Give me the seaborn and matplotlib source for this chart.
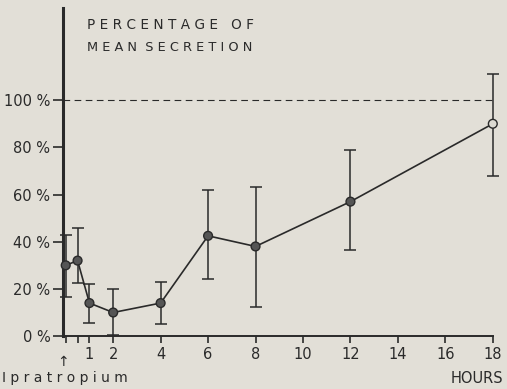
import numpy as np
import pandas as pd
import matplotlib
matplotlib.use("Agg")
import matplotlib.pyplot as plt
import seaborn as sns

hours = [0, 0.5, 1, 2, 4, 6, 8, 12, 18]
mean_pct = [30, 32, 14, 10, 14, 42.5, 38, 57, 90]
err_low = [16.5, 22.5, 5.5, 0.5, 5, 24, 12.5, 36.5, 68]
err_high = [43, 46, 22, 20, 23, 62, 63, 79, 111]
x_ticks = [0, 0.5, 1, 2, 4, 6, 8, 10, 12, 14, 16, 18]
x_labels = ["", "", "1", "2", "4", "6", "8", "10", "12", "14", "16", "18"]
y_ticks = [0, 20, 40, 60, 80, 100]
y_labels = ["0 %", "20 %", "40 %", "60 %", "80 %", "100 %"]

df = pd.DataFrame({"hours": hours, "pct": mean_pct})
bg = "#e2dfd7"
ink = "#2a2a2a"

sns.set_style("ticks")
plt.rcParams["font.family"] = ["DejaVu Sans"]

fig = plt.figure(figsize=(5.07, 3.89), dpi=100, facecolor=bg)
ax = fig.add_axes([0.124, 0.136, 0.848, 0.843])
ax.set_facecolor(bg)

ax.axhline(100, color=ink, lw=0.8, ls=(0, (6, 4)))

yerr = np.array([np.array(mean_pct) - np.array(err_low),
                 np.array(err_high) - np.array(mean_pct)])
ax.errorbar(hours, mean_pct, yerr=yerr, fmt="none", ecolor=ink,
            elinewidth=1.1, capsize=4, capthick=1.1, zorder=2, clip_on=False)
sns.lineplot(data=df, x="hours", y="pct", ax=ax, color=ink, lw=1.2,
             zorder=3, legend=False)
face = ["#555555"] * (len(hours) - 1) + ["#dcdad2"]
ax.scatter(hours, mean_pct, s=40, c=face, edgecolors=ink, linewidths=1.0,
           zorder=4, clip_on=False)

ax.set_xlim(-0.12, 18)
ax.set_ylim(0, 139)
ax.set_xticks(x_ticks)
ax.set_xticklabels(x_labels, fontsize=10.5, color=ink)
ax.set_yticks(y_ticks)
ax.set_yticklabels(y_labels, fontsize=10.5, color=ink)
ax.tick_params(axis="y", length=7, width=1.2, color=ink, pad=2)
ax.tick_params(axis="x", length=5, width=1.2, color=ink, pad=3)
ax.set_xlabel("")
ax.set_ylabel("")
sns.despine(ax=ax)
ax.spines["left"].set_linewidth(2.2)
ax.spines["bottom"].set_linewidth(1.4)
ax.spines["left"].set_color(ink)
ax.spines["bottom"].set_color(ink)

fig.text(0.172, 0.935, "P E R C E N T A G E   O F", fontsize=9.8, color=ink,
         va="center", ha="left")
fig.text(0.172, 0.878, "M E A N  S E C R E T I O N", fontsize=9.3, color=ink,
         va="center", ha="left")
fig.text(0.125, 0.07, "\u2191", fontsize=10, color=ink, ha="center", va="center")
fig.text(0.004, 0.028, "I p r a t r o p i u m", fontsize=10, color=ink,
         ha="left", va="center")
fig.text(0.993, 0.028, "HOURS", fontsize=10.5, color=ink, ha="right", va="center")

fig.savefig("out.png", dpi=100, facecolor=bg)
